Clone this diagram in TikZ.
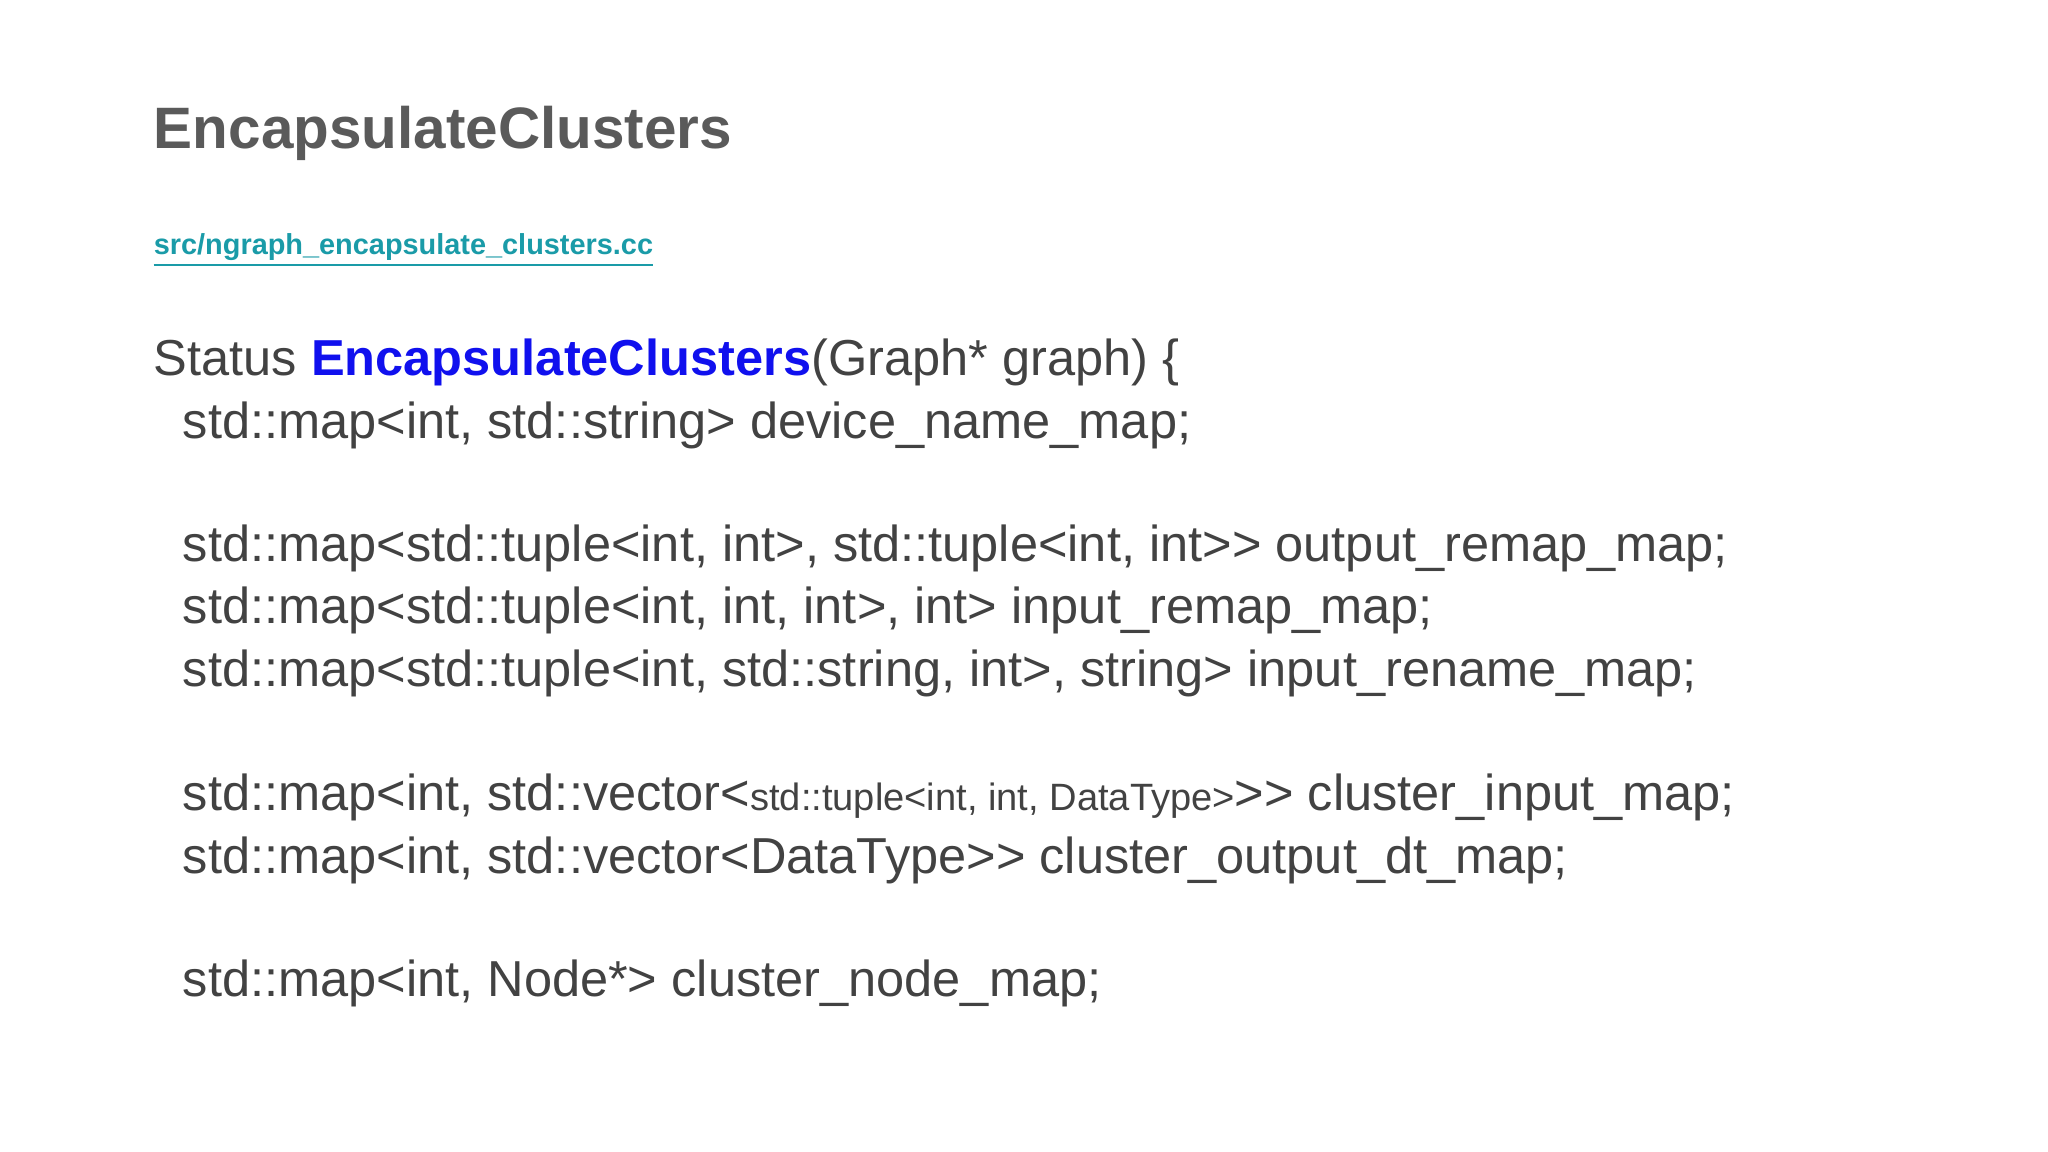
\documentclass[tikz,border=0pt]{standalone}
\usepackage{fontspec}
\setmainfont{Liberation Sans}
\definecolor{txt}{HTML}{424242}
\definecolor{ttl}{HTML}{5A5A5A}
\definecolor{lnk}{HTML}{1A9BA8}
\definecolor{fn}{HTML}{1010EE}
\begin{document}
\begin{tikzpicture}[x=1pt,y=1pt,
  code/.style={anchor=base west,inner sep=0pt,text=txt,font=\fontsize{38.5}{44}\selectfont}]
\useasboundingbox[fill=white] (0,0) rectangle (1560,-877.5);
\node[anchor=base west,inner sep=0pt,text=ttl,font=\fontsize{44.5}{50}\selectfont\bfseries] (title) at (117,-113) {EncapsulateClusters};
\node[anchor=base west,inner sep=0pt,text=lnk,font=\fontsize{22}{26}\selectfont\bfseries] (link) at (117,-194) {src/ngraph\_encapsulate\_clusters.cc};
\draw[lnk,line width=1.5pt] (link.south west)++(0,-3) -- ([yshift=-3pt]link.south east);
\node[code] (l1) at (117,-286) {Status \textcolor{fn}{\bfseries EncapsulateClusters}(Graph* graph) \{};
\node[code] (l2) at (139,-334) {std::map<int, std::string> device\_name\_map;};
\node[code] (l3) at (139,-428) {std::map<std::tuple<int, int>, std::tuple<int, int>{}> output\_remap\_map;};
\node[code] (l4) at (139,-475) {std::map<std::tuple<int, int, int>, int> input\_remap\_map;};
\node[code] (l5) at (139,-523) {std::map<std::tuple<int, std::string, int>, string> input\_rename\_map;};
\node[code] (l6) at (139,-617) {std::map<int, std::vector<{\fontsize{29}{34}\selectfont std::tuple<int, int, DataType>}>{}> cluster\_input\_map;};
\node[code] (l7) at (139,-665) {std::map<int, std::vector<DataType>{}> cluster\_output\_dt\_map;};
\node[code] (l8) at (139,-759) {std::map<int, Node*> cluster\_node\_map;};
\end{tikzpicture}
\end{document}
